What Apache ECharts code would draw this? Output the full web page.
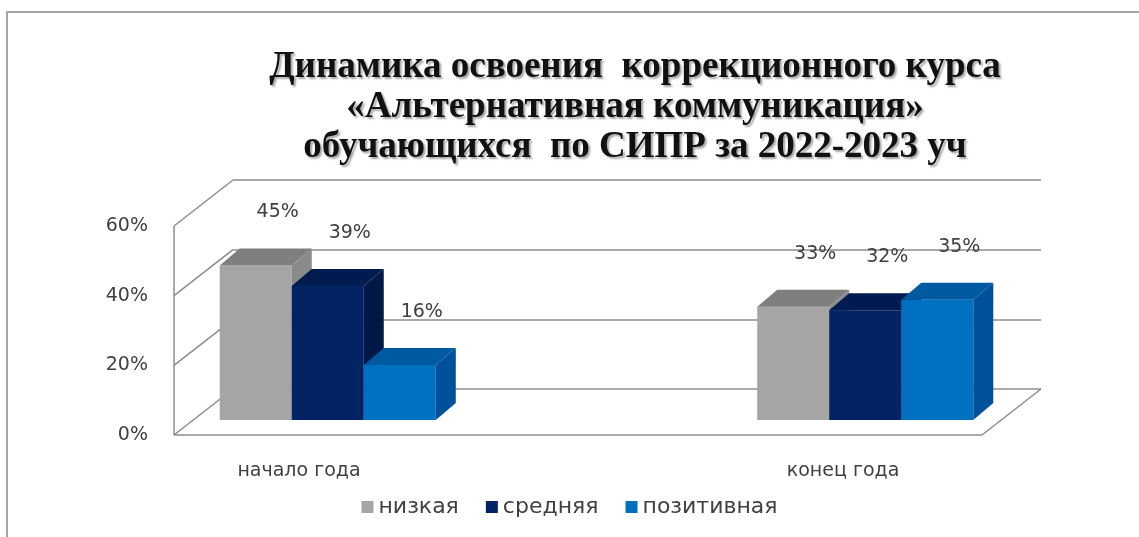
<!DOCTYPE html>
<html><head><meta charset="utf-8">
<script src="https://cdn.jsdelivr.net/npm/echarts@6/dist/echarts.min.js"></script>
<style>html,body{margin:0;padding:0;background:#fff}#c{width:1139px;height:537px}</style>
</head><body><div id="c"></div>
<script>
var categories = ['начало года', 'конец года'];
var seriesNames = ['низкая', 'средняя', 'позитивная'];
var nizkaya = [45, 33];
var srednyaya = [39, 32];
var pozitivnaya = [16, 35];
var yTicks = [0, 20, 40, 60];
var titleLines = ['Динамика освоения  коррекционного курса', '«Альтернативная коммуникация»', 'обучающихся  по СИПР за 2022-2023 уч'];

var seriesValues = [nizkaya, srednyaya, pozitivnaya];
var palettes = [
  {front:'#a5a5a5', top:'#7f7f7f', side:'#8a8a8a'},
  {front:'#022464', top:'#001b4f', side:'#001846'},
  {front:'#0070c0', top:'#005aa2', side:'#00519a'}
];
var WALL_DEPTH = [-59, 46];
var BAR_DEPTH = [20, -17];
var BAR_FRAC = 0.134;
var LINE = {stroke:'#8c8c8c', lineWidth:1.5};
var FONT = '"DejaVu Sans", sans-serif';

function barRenderer(idx, pal){
  return function(params, api){
    var c = api.value(0), v = api.value(1);
    var p0 = api.coord([c, 0]), p1 = api.coord([c, v]);
    var band = api.size([1, 0])[0];
    var w = band * BAR_FRAC;
    var x0 = p0[0] + (idx - 1) * w - w / 2, x1 = x0 + w;
    var yb = p0[1], yt = p1[1];
    var dx = BAR_DEPTH[0], dy = BAR_DEPTH[1];
    return {type:'group', children:[
      {type:'polygon', shape:{points:[[x0,yb],[x1,yb],[x1,yt],[x0,yt]]}, style:{fill:pal.front}},
      {type:'polygon', shape:{points:[[x0,yt],[x1,yt],[x1+dx,yt+dy],[x0+dx,yt+dy]]}, style:{fill:pal.top}},
      {type:'polygon', shape:{points:[[x1,yb],[x1+dx,yb+dy],[x1+dx,yt+dy],[x1,yt]]}, style:{fill:pal.side}},
      {type:'text', x:(x0+x1)/2 + dx/2 + 12, y:yt + dy - 36,
        style:{text:v + '%', fill:'#404040', fontSize:19, fontFamily:FONT, align:'center', verticalAlign:'middle'}}
    ]};
  };
}

function wallRenderer(params, api){
  var v = api.value(1);
  var b = api.coord([0, v]);
  var f = [b[0] + WALL_DEPTH[0], b[1] + WALL_DEPTH[1]];
  var ch = [{type:'line', shape:{x1:b[0], y1:b[1], x2:f[0], y2:f[1]}, style:LINE}];
  if (v === yTicks[0]) {
    var br = api.coord([1, v]);
    var fr = [br[0] + WALL_DEPTH[0], br[1] + WALL_DEPTH[1]];
    ch.push({type:'line', shape:{x1:f[0], y1:f[1], x2:fr[0], y2:fr[1]}, style:LINE});
    ch.push({type:'line', shape:{x1:br[0], y1:br[1], x2:fr[0], y2:fr[1]}, style:LINE});
  }
  if (v === yTicks[yTicks.length - 1]) {
    var bb = api.coord([0, yTicks[0]]);
    ch.push({type:'line', shape:{x1:f[0], y1:f[1], x2:bb[0] + WALL_DEPTH[0], y2:bb[1] + WALL_DEPTH[1]}, style:LINE});
  }
  return {type:'group', children:ch};
}

var series = [{
  type:'custom', xAxisIndex:0, yAxisIndex:0, z:1, silent:true, clip:false,
  encode:{x:0, y:1},
  data:yTicks.map(function(t){ return [0, t]; }),
  renderItem:wallRenderer
}];
seriesNames.forEach(function(name, i){
  series.push({
    type:'custom', name:name, xAxisIndex:2, yAxisIndex:2, z:2, clip:false,
    encode:{x:0, y:1},
    itemStyle:{color:palettes[i].front},
    data:seriesValues[i].map(function(v, k){ return [k, v]; }),
    renderItem:barRenderer(i, palettes[i])
  });
});

var chart = echarts.init(document.getElementById('c'));
chart.setOption({
  animation:false,
  backgroundColor:'#ffffff',
  graphic:[{type:'rect', shape:{x:7, y:12, width:1200, height:600}, style:{fill:null, stroke:'#a6a6a6', lineWidth:2}}],
  title:{text:titleLines.join('\n'), left:630, textAlign:'center', top:42,
    textStyle:{fontFamily:'"Liberation Serif", serif', fontWeight:'bold', fontSize:37, lineHeight:40, color:'#111',
      textShadowColor:'rgba(0,0,0,0.35)', textShadowBlur:2, textShadowOffsetX:2, textShadowOffsetY:2}},
  legend:{data:seriesNames, left:'center', top:491, icon:'rect', itemWidth:12, itemHeight:12, itemGap:27,
    textStyle:{fontFamily:FONT, fontSize:22, color:'#404040'}},
  grid:[
    {left:233, top:180, width:808, height:209},
    {left:174, top:226, width:10, height:209},
    {left:59, top:214, width:1075, height:206},
    {left:27, top:200, width:1088, height:250}
  ],
  xAxis:[
    {gridIndex:0, type:'value', min:0, max:1, show:false},
    {gridIndex:1, type:'value', min:0, max:1, show:false},
    {gridIndex:2, type:'category', data:categories, show:false},
    {gridIndex:3, type:'category', data:categories, axisLine:{show:false}, axisTick:{show:false},
      axisLabel:{margin:12, fontSize:19, fontFamily:FONT, color:'#404040'}}
  ],
  yAxis:[
    {gridIndex:0, type:'value', min:0, max:60, interval:20, axisLine:{show:false}, axisTick:{show:false},
      axisLabel:{show:false}, splitLine:{lineStyle:{color:'#8c8c8c', width:1.5}}},
    {gridIndex:1, type:'value', min:0, max:60, interval:20, axisLine:{show:false}, axisTick:{show:false},
      splitLine:{show:false}, axisLabel:{formatter:'{value}%', margin:26, fontSize:19, fontFamily:FONT, color:'#404040'}},
    {gridIndex:2, type:'value', min:0, max:60, show:false},
    {gridIndex:3, type:'value', show:false}
  ],
  series:series
});
</script>
</body></html>
